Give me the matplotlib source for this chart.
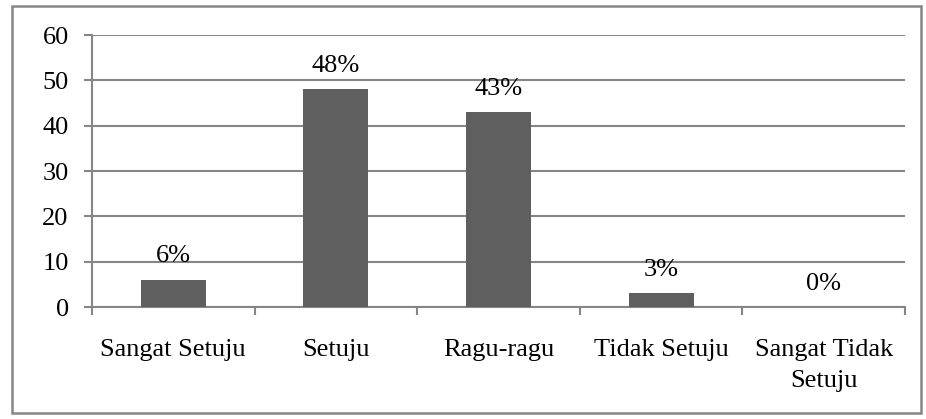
import matplotlib.pyplot as plt
from matplotlib.patches import Rectangle
import numpy as np

# data
kategori = ['Sangat Setuju', 'Setuju', 'Ragu-ragu', 'Tidak Setuju', 'Sangat Tidak\nSetuju']
nilai = [6, 48, 43, 3, 0]
label_persen = ['6%', '48%', '43%', '3%', '0%']
y_ticks = [0, 10, 20, 30, 40, 50, 60]

plt.rcParams['font.family'] = ['Liberation Serif', 'DejaVu Serif']
abu = '#868686'
fs = 19

fig = plt.figure(figsize=(9.26, 4.19), dpi=100)
ax = fig.add_axes([92 / 926, 1 - 307 / 419, (905 - 92) / 926, (307 - 35) / 419])

x = np.arange(len(kategori))
ax.bar(x, nilai, width=0.4, color='#5f5f5f', zorder=3)

for xi, v, lab in zip(x, nilai, label_persen):
    ax.annotate(lab, (xi, v), xytext=(0, 9), textcoords='offset points',
                ha='center', va='bottom', fontsize=fs)

ax.set_xlim(-0.5, len(kategori) - 0.5)
ax.set_ylim(0, 60)
ax.set_yticks(y_ticks)
ax.yaxis.grid(True, color=abu, linewidth=1.5, zorder=0)
ax.set_axisbelow(True)

ax.set_xticks(x)
ax.set_xticklabels(kategori, fontsize=fs, linespacing=1.55)
ax.set_xticks(np.arange(-0.5, len(kategori)), minor=True)
ax.tick_params(axis='x', which='major', length=0, pad=23)
ax.tick_params(axis='x', which='minor', length=5.5, width=1.5, color=abu, direction='out')
ax.tick_params(axis='y', length=5.8, width=1.5, color=abu, labelsize=fs, pad=11)

for s in ['top', 'right']:
    ax.spines[s].set_visible(False)
for s in ['left', 'bottom']:
    ax.spines[s].set_color(abu)
    ax.spines[s].set_linewidth(1.5)

# bingkai luar
fig.patches.append(Rectangle((12 / 926, 1 - 413 / 419), (921 - 12) / 926, (413 - 6) / 419,
                             transform=fig.transFigure, fill=False, edgecolor=abu, linewidth=1.8))

fig.savefig('out.png', dpi=100)
